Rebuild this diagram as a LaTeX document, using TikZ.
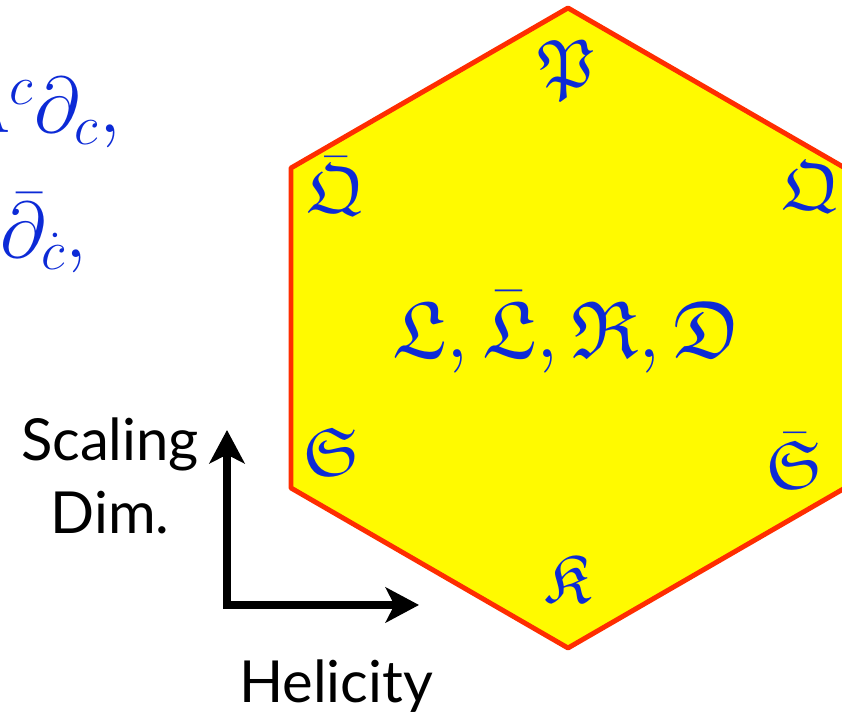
\RequirePackage{fix-cm}
\documentclass[tikz,border=0pt]{standalone}
\usepackage{fontspec}
\usepackage{amsmath,amssymb}
\usepackage{tkz-euclide}
\newfontfamily\axisfont{Lato}
\DeclareFontFamily{U}{euf}{}
\DeclareFontShape{U}{euf}{m}{n}{<-6>eufm5<6-8>eufm7<8->eufm10}{}
\DeclareFontShape{U}{euf}{b}{n}{<-6>eufb5<6-8>eufb7<8->eufb10}{}
\definecolor{hexyellow}{RGB}{255,250,0}
\definecolor{hexred}{RGB}{255,45,0}
\definecolor{frakblue}{RGB}{12,42,214}

\begin{document}
\begin{tikzpicture}[x=0.02cm,y=0.02cm,
  corner/.style={text=frakblue,inner sep=0pt,font=\fontsize{39}{44}\selectfont},
  middle/.style={text=frakblue,inner sep=0pt,font=\fontsize{46}{50}\selectfont},
  eqn/.style={text=frakblue,inner sep=0pt,font=\fontsize{45}{50}\selectfont},
  axislabel/.style={inner sep=0pt,align=center,font=\axisfont\fontsize{33}{41.5}\selectfont},
  axis/.style={line width=4.5pt,line join=miter,
    {Stealth[length=19pt,width=20pt,inset=5pt]}-{Stealth[length=19pt,width=20pt,inset=5pt]}}]
  \useasboundingbox (0,0) rectangle (842,716);
  \clip (0,0) rectangle (842,716);
  \tkzDefPoints{568/708/A,291/548/B,291/228/C,568/68/D,845/228/E,845/548/F}
  \tkzDefPoints{227/111/O,227/286/Y,419/111/X}

  \tkzFillPolygon[color=hexyellow](A,B,C,D,E,F)
  \tkzDrawPolygon[color=hexred,line width=2.8pt](A,B,C,D,E,F)
  \draw[axis] (Y) -- (O) -- (X);

  \node[corner] (p) at (567,646) {$\mathfrak{P}$};
  \node[corner,anchor=base] (qbar) at (336,503) {$\bar{\mathfrak{Q}}$};
  \node[corner,anchor=base] (q) at (811,506) {$\mathfrak{Q}$};
  \node[middle,anchor=base] (centre) at (567,358) {$\mathfrak{L},\bar{\mathfrak{L}},\mathfrak{R},\mathfrak{D}$};
  \node[corner,anchor=base] (s) at (332,240) {$\mathfrak{S}$};
  \node[corner,anchor=base] (sbar) at (795,227) {$\bar{\mathfrak{S}}$};
  \node[corner,anchor=base] (k) at (567,113) {$\mathfrak{K}$};

  \node[eqn,anchor=base east] (eqa) at (121,583) {$\Lambda^c\partial_c,$};
  \node[eqn,anchor=base west] (eqb) at (0,458) {$\bar\partial_{\dot c},$};

  \node[axislabel] (scaling) at (110,240) {Scaling\\Dim.};
  \node[axislabel,anchor=base] (helicity) at (336,13) {Helicity};
\end{tikzpicture}
\end{document}
